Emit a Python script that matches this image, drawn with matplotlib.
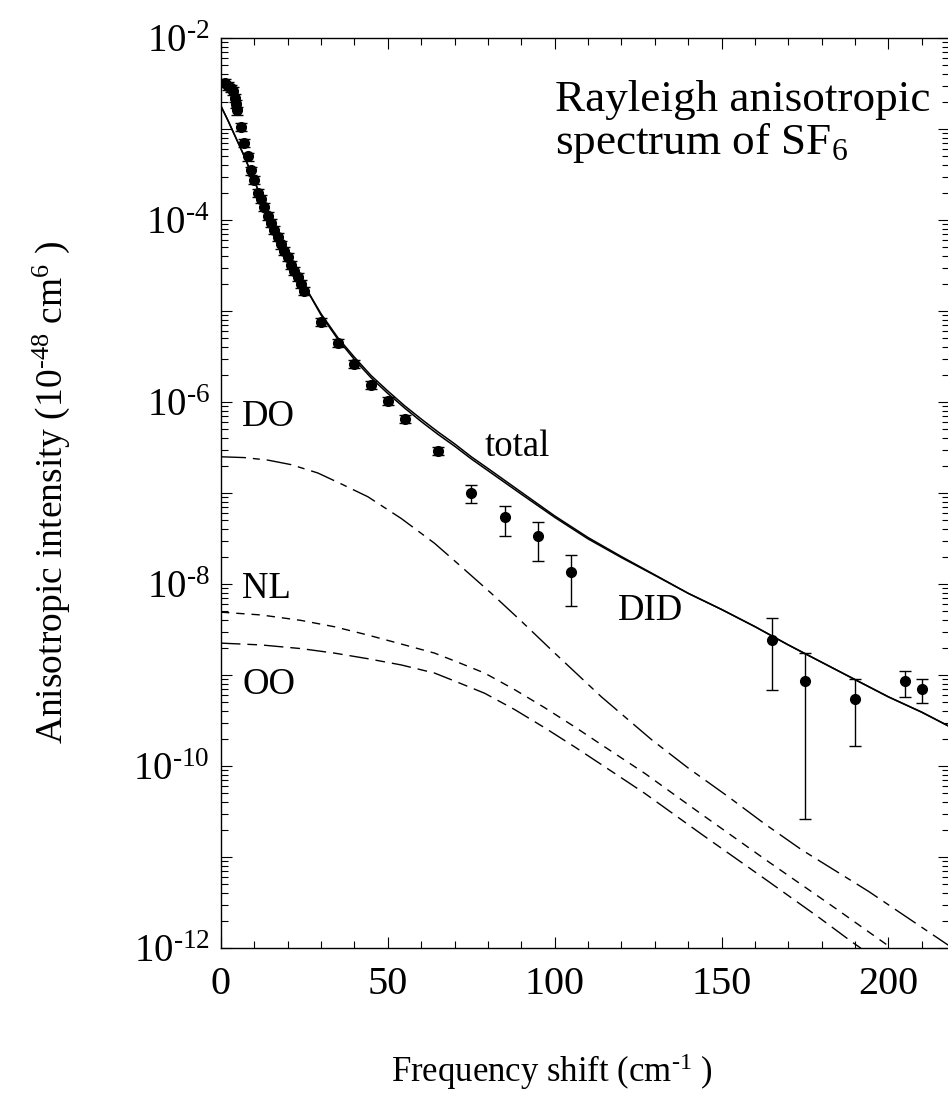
import matplotlib
matplotlib.use("Agg")
import matplotlib.pyplot as plt
import numpy as np
from matplotlib.ticker import FixedLocator, LogLocator, MultipleLocator, NullFormatter

plt.rcParams['font.family'] = ['Liberation Serif', 'DejaVu Serif']
plt.rcParams['mathtext.fontset'] = 'custom'
plt.rcParams['mathtext.rm'] = 'Liberation Serif'
plt.rcParams['mathtext.it'] = 'Liberation Serif:italic'

# measured points (frequency shift, intensity)
freq_pts = [1.2, 2.2, 2.9, 3.7, 4.2, 4.5, 4.9, 6, 7, 8, 9, 10, 11, 12, 13, 14, 15, 16,
            17, 18, 19, 20, 21, 22, 23, 24, 25, 30, 35, 40, 45, 50, 55, 65,
            75, 85, 95, 105, 165, 175, 190, 205, 210]
int_pts = [3.2e-3, 3.0e-3, 2.8e-3, 2.6e-3, 2.2e-3, 1.9e-3, 1.6e-3, 1.05e-3, 7.1e-4, 5.0e-4,
           3.5e-4, 2.75e-4, 2.0e-4, 1.7e-4, 1.4e-4, 1.12e-4, 9.3e-5, 7.8e-5, 6.5e-5, 5.4e-5,
           4.6e-5, 3.9e-5, 3.2e-5, 2.75e-5, 2.35e-5, 2.0e-5, 1.66e-5, 7.6e-6, 4.5e-6, 2.6e-6,
           1.55e-6, 1.02e-6, 6.5e-7, 2.9e-7,
           1.0e-7, 5.4e-8, 3.4e-8, 1.35e-8, 2.45e-9, 8.5e-10, 5.5e-10, 8.5e-10, 7.1e-10]
# error bar ends for the high-frequency points
freq_err = [75, 85, 95, 105, 165, 175, 190, 205, 210]
err_low = [7.8e-8, 3.4e-8, 1.8e-8, 5.8e-9, 6.8e-10, 2.6e-11, 1.65e-10, 5.8e-10, 4.9e-10]
err_high = [1.23e-7, 7.2e-8, 4.8e-8, 2.1e-8, 4.2e-9, 1.75e-9, 9.1e-10, 1.12e-9, 9.1e-10]
rel_err = 0.1  # small bars on the dense low-frequency points

# calculated curves
total_x = [0, 2, 4, 7, 10, 13, 16, 20, 25, 30, 35, 40, 45, 50, 55, 60, 65, 70, 75, 80,
           90, 100, 110, 120, 130, 140, 150, 160, 170, 180, 190, 200, 210, 218]
total_y = [1.78e-3, 1.26e-3, 8.7e-4, 5.0e-4, 2.69e-4, 1.45e-4, 8.3e-5, 4.17e-5, 1.9e-5,
           9.3e-6, 5.1e-6, 3.1e-6, 1.95e-6, 1.32e-6, 9.1e-7, 6.5e-7, 4.7e-7, 3.47e-7,
           2.5e-7, 1.86e-7, 1.02e-7, 5.6e-8, 3.24e-8, 2.0e-8, 1.26e-8, 7.9e-9, 5.25e-9,
           3.4e-9, 2.14e-9, 1.38e-9, 8.9e-10, 5.75e-10, 3.9e-10, 2.75e-10]
did_y = [1.78e-3, 1.26e-3, 8.7e-4, 5.0e-4, 2.69e-4, 1.45e-4, 8.3e-5, 4.17e-5, 1.9e-5,
         9.0e-6, 4.9e-6, 2.92e-6, 1.84e-6, 1.24e-6, 8.6e-7, 6.1e-7, 4.42e-7, 3.27e-7,
         2.37e-7, 1.76e-7, 9.7e-8, 5.4e-8, 3.13e-8, 1.95e-8, 1.245e-8, 7.9e-9, 5.25e-9,
         3.4e-9, 2.14e-9, 1.38e-9, 8.9e-10, 5.75e-10, 3.9e-10, 2.75e-10]

do_x = [0, 7, 14, 21, 29, 36, 44, 54, 64, 72, 81, 90, 100, 114, 129, 140, 152, 163, 174,
        194, 218]
do_y = [2.5e-7, 2.45e-7, 2.3e-7, 2.05e-7, 1.66e-7, 1.26e-7, 9.1e-8, 5.25e-8, 2.8e-8,
        1.55e-8, 7.9e-9, 3.9e-9, 1.74e-9, 5.75e-10, 1.95e-10, 9.5e-11, 4.6e-11, 2.3e-11,
        1.2e-11, 4.2e-12, 1.07e-12]

nl_x = [0, 12, 24, 34, 44, 54, 64, 71, 79, 88, 97, 106, 115, 127, 144, 164, 184, 199, 202]
nl_y = [4.9e-9, 4.57e-9, 3.98e-9, 3.39e-9, 2.75e-9, 2.19e-9, 1.74e-9, 1.38e-9, 1.05e-9,
        6.9e-10, 4.37e-10, 2.69e-10, 1.62e-10, 8.3e-11, 2.95e-11, 8.9e-12, 2.75e-12,
        1.12e-12, 9.3e-13]

oo_x = [0, 12, 24, 34, 44, 54, 64, 71, 79, 88, 97, 106, 115, 127, 144, 164, 179, 189, 192]
oo_y = [2.24e-9, 2.14e-9, 1.95e-9, 1.74e-9, 1.51e-9, 1.29e-9, 1.05e-9, 8.3e-10, 6.3e-10,
        4.17e-10, 2.63e-10, 1.62e-10, 9.8e-11, 5.0e-11, 1.78e-11, 5.4e-12, 2.19e-12,
        1.17e-12, 9.8e-13]

fig = plt.figure(figsize=(9.48, 11.14), dpi=100)
ax = fig.add_axes([221 / 948, 166 / 1114, 727.5 / 948, 910 / 1114])

ax.plot(total_x, total_y, color='black', lw=1.1)
ax.plot(total_x, did_y, color='black', lw=1.1)
ax.plot(do_x, do_y, color='black', lw=1.0, linestyle=(0, (18, 5, 5, 5)))
ax.plot(nl_x, nl_y, color='black', lw=1.0, linestyle=(0, (6, 5)))
ax.plot(oo_x, oo_y, color='black', lw=1.0, linestyle=(0, (14, 5, 7, 5)))

pts_x = np.array(freq_pts)
pts_y = np.array(int_pts)
lo = pts_y * rel_err
hi = pts_y * rel_err
for f, l, h in zip(freq_err, err_low, err_high):
    i = freq_pts.index(f)
    lo[i] = pts_y[i] - l
    hi[i] = h - pts_y[i]
ax.errorbar(pts_x, pts_y, yerr=[lo, hi], fmt='o', color='black', ms=7,
            elinewidth=1.0, capsize=4, capthick=1.0)

ax.set_yscale('log')
ax.set_xlim(0, 218)
ax.set_ylim(1e-12, 1e-2)

ax.xaxis.set_major_locator(MultipleLocator(50))
ax.xaxis.set_minor_locator(MultipleLocator(10))
decades = [10.0 ** e for e in range(-12, -1)]
ax.yaxis.set_major_locator(FixedLocator(decades))
ax.set_yticklabels([r'$10^{\text{-}%d}$' % -e if e % 2 == 0 else '' for e in range(-12, -1)])
ax.yaxis.set_minor_locator(LogLocator(base=10, subs=np.arange(2, 10), numticks=30))
ax.yaxis.set_minor_formatter(NullFormatter())
ax.tick_params(which='both', direction='in', top=True, right=True, width=0.8)
ax.tick_params(which='major', length=8)
ax.tick_params(which='minor', length=5)
ax.tick_params(axis='x', labelsize=29, pad=13)
ax.tick_params(axis='y', labelsize=28, pad=8)
for s in ax.spines.values():
    s.set_linewidth(1.0)

ax.set_xlabel(r'Frequency shift (cm$^{\text{-}1}$ )', fontsize=25)
ax.xaxis.set_label_coords(0.455, -0.113)
ax.set_ylabel(r'Anisotropic intensity (10$^{\text{-}48}$ cm$^{6}$ )', fontsize=27)
ax.yaxis.set_label_coords(-0.205, 0.5)

ax.text(100, 10 ** -2.80, 'Rayleigh anisotropic', fontsize=32.5, ha='left', va='baseline')
ax.text(100, 10 ** -3.27, 'spectrum of SF$_6$', fontsize=32.5, ha='left', va='baseline')
ax.text(6.3, 10 ** -6.16, 'DO', fontsize=26.5, ha='left', va='center')
ax.text(6.3, 10 ** -8.05, 'NL', fontsize=26.5, ha='left', va='center')
ax.text(6.3, 10 ** -9.11, 'OO', fontsize=26.5, ha='left', va='center')
ax.text(79, 10 ** -6.49, 'total', fontsize=26.5, ha='left', va='center')
ax.text(119, 10 ** -8.29, 'DID', fontsize=26.5, ha='left', va='center')

fig.savefig('out.png', dpi=100)
